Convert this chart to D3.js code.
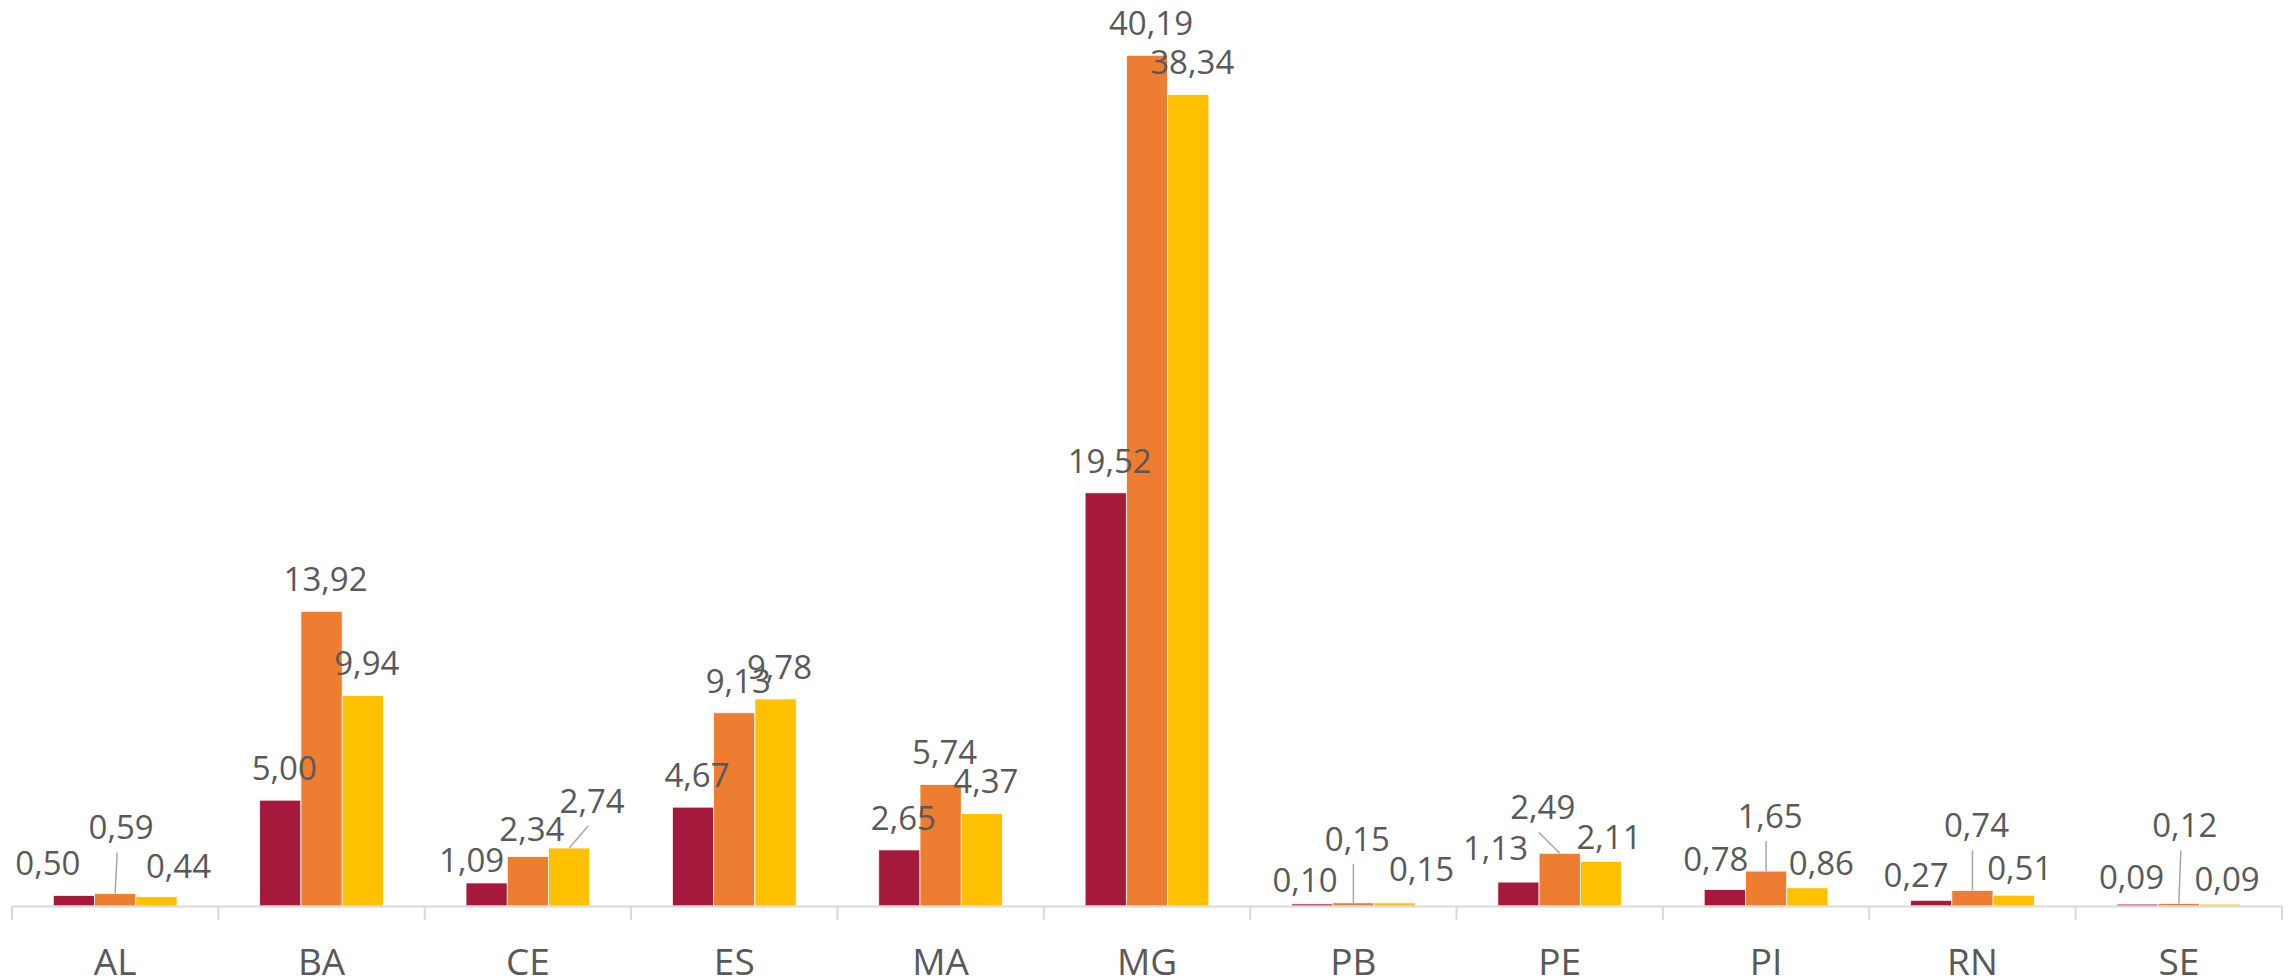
<!DOCTYPE html>
<html>
<head>
<meta charset="utf-8">
<script src="https://cdn.jsdelivr.net/npm/d3@7"></script>
<style>
  body { margin: 0; background: #fff; }
  text { font-family: "Open Sans", sans-serif; fill: #595959; }
</style>
</head>
<body>
<div id="chart"></div>
<script>
// data
const categories = ["AL", "BA", "CE", "ES", "MA", "MG", "PB", "PE", "PI", "RN", "SE"];
const serie1 = [0.50, 5.00, 1.09, 4.67, 2.65, 19.52, 0.10, 1.13, 0.78, 0.27, 0.09];
const serie2 = [0.59, 13.92, 2.34, 9.13, 5.74, 40.19, 0.15, 2.49, 1.65, 0.74, 0.12];
const serie3 = [0.44, 9.94, 2.74, 9.78, 4.37, 38.34, 0.15, 2.11, 0.86, 0.51, 0.09];
const seriesColors = ["#A51A3C", "#ED7D31", "#FFC000"];

// labels that were dragged by hand in the original (px offsets), some with leader lines
const labelMoves = {
  "AL-0": [-30, 0], "AL-1": [2, -34, true], "AL-2": [18, 2],
  "CE-0": [-19, 9], "CE-1": [0, 5], "CE-2": [19, -15, true],
  "PB-0": [-11, 8], "PB-1": [0, -32, true], "PB-2": [23, -2],
  "PE-0": [-27, -2], "PE-1": [-21, -14, true], "PE-2": [4, 8],
  "PI-0": [-13, 2], "PI-1": [0, -23, true], "PI-2": [10, 7],
  "RN-0": [-19, 7], "RN-1": [0, -33, true], "RN-2": [2, 5],
  "SE-0": [-10, 5], "SE-1": [2, -46, true], "SE-2": [3, 7]
};

const width = 2292;
const height = 978;
const baseY = 906;

const allSeries = [serie1, serie2, serie3];
const rows = [];
categories.forEach((c, i) => {
  allSeries.forEach((s, j) => rows.push({ cat: c, s: j, value: s[i] }));
});

const x0 = d3.scaleBand()
             .domain(categories)
             .range([12, 2282])
             .padding(0);

const x1 = d3.scaleBand()
             .domain([0, 1, 2])
             .range([0, x0.bandwidth()])
             .paddingInner(0)
             .paddingOuter(1);

const y = d3.scaleLinear()
            .domain([0, 42.8])
            .range([baseY, 0]);

const fmt = v => d3.format(".2f")(v).replace(".", ",");

const svg = d3.select("#chart")
              .append("svg")
              .attr("width", width)
              .attr("height", height);

// bars
svg.append("g").selectAll("rect")
   .data(rows)
   .enter()
   .append("rect")
    .attr("x", d => x0(d.cat) + x1(d.s))
    .attr("y", d => y(d.value))
    .attr("width", x1.bandwidth())
    .attr("height", d => baseY - y(d.value))
    .attr("fill", d => seriesColors[d.s])
    .attr("stroke", "#fff")
    .attr("stroke-width", 0.8);

// axis
const axis = svg.append("g")
                .attr("transform", "translate(0," + baseY + ")")
                .call(d3.axisBottom(x0).tickSize(0).tickPadding(0));
axis.select(".domain").attr("stroke", "#D9D9D9").attr("stroke-width", 2);
axis.selectAll("text")
    .attr("y", 69)
    .attr("dy", 0)
    .style("font-family", "'Open Sans', sans-serif")
    .style("font-size", "37px")
    .attr("fill", "#595959");

// tick marks between categories
const bounds = categories.map(c => x0(c)).concat([x0.range()[1]]);
svg.append("g").selectAll("line")
   .data(bounds)
   .enter()
   .append("line")
    .attr("x1", d => d).attr("x2", d => d)
    .attr("y1", baseY).attr("y2", baseY + 14)
    .attr("stroke", "#D9D9D9")
    .attr("stroke-width", 2);

// data labels
const labelPos = d => {
  const m = labelMoves[d.cat + "-" + d.s] || [0, 0, false];
  const bx = x0(d.cat) + x1(d.s) + x1.bandwidth() / 2;
  const top = y(d.value);
  return { bx: bx, top: top, cx: bx + 4 + m[0], cy: top - 32 + m[1], dx: m[0], leader: !!m[2] };
};

svg.append("g").selectAll("line")
   .data(rows.filter(d => labelPos(d).leader))
   .enter()
   .append("line")
    .attr("x1", d => labelPos(d).bx + labelPos(d).dx)
    .attr("y1", d => labelPos(d).cy + 25)
    .attr("x2", d => labelPos(d).bx)
    .attr("y2", d => labelPos(d).top)
    .attr("stroke", "#A6A6A6")
    .attr("stroke-width", 1.5);

svg.append("g").selectAll("text")
   .data(rows)
   .enter()
   .append("text")
    .attr("x", d => labelPos(d).cx)
    .attr("y", d => labelPos(d).cy + 11.8)
    .attr("text-anchor", "middle")
    .style("font-size", "33px")
    .text(d => fmt(d.value));
</script>
</body>
</html>
